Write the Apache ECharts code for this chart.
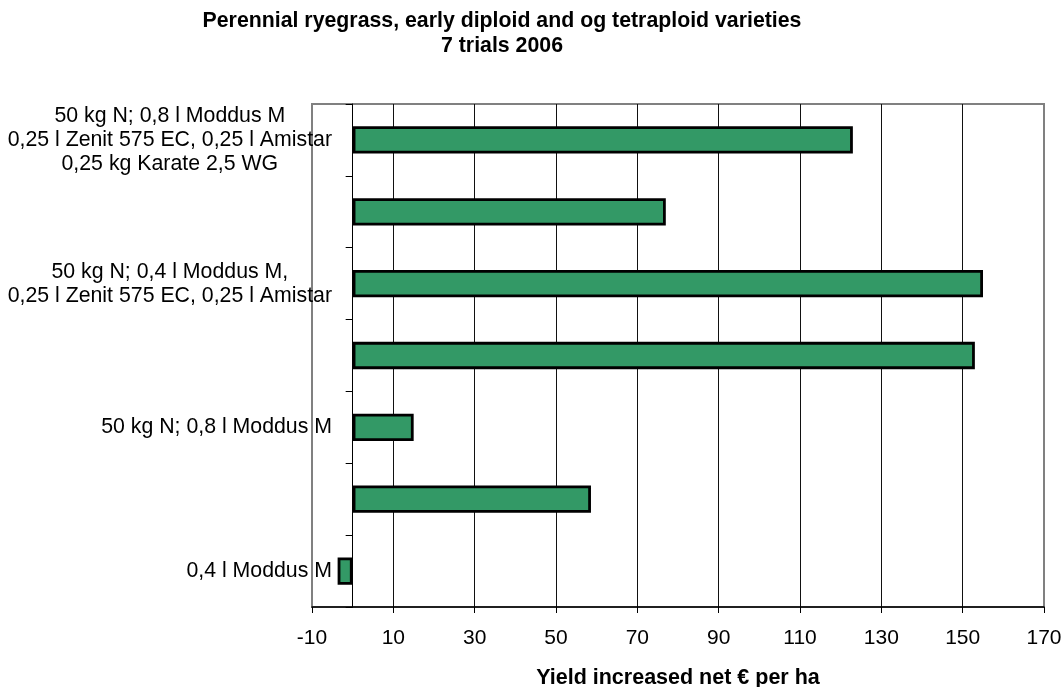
<!DOCTYPE html>
<html>
<head>
<meta charset="utf-8">
<script src="https://cdn.jsdelivr.net/npm/echarts@6/dist/echarts.min.js"></script>
<style>
html,body{margin:0;padding:0;background:#fff;}
#chart{width:1064px;height:687px;}
</style>
</head>
<body>
<div id="chart"></div>
<script>
const titleLines = ['Perennial ryegrass, early diploid and og tetraploid varieties', '7 trials 2006'];
const axisName = 'Yield increased net € per ha';
const categories = [
  '50 kg N; 0,8 l Moddus M\n0,25 l Zenit 575 EC, 0,25 l Amistar\n0,25 kg Karate 2,5 WG',
  '',
  '50 kg N; 0,4 l Moddus M,\n0,25 l Zenit 575 EC, 0,25 l Amistar',
  '',
  '50 kg N; 0,8 l Moddus M',
  '',
  '0,4 l Moddus M'
];
const values = [123, 77, 155, 153, 15, 58.6, -3.7];
const xMin = -10, xMax = 170, xInterval = 20;

const FONT = '"Liberation Sans", Arial, sans-serif';
const chart = echarts.init(document.getElementById('chart'), null, {renderer: 'canvas'});
chart.setOption({
  animation: false,
  backgroundColor: '#fff',
  title: {
    text: titleLines.join('\n'),
    left: 497,
    top: 4,
    textAlign: 'center',
    textStyle: {fontFamily: FONT, fontSize: 21.3, fontWeight: 'bold', color: '#000', lineHeight: 25}
  },
  grid: {
    left: 312, right: 20, top: 104, bottom: 80,
    outerBoundsMode: 'none',
    containLabel: false,
    show: true, borderColor: '#808080', borderWidth: 2, backgroundColor: 'transparent'
  },
  xAxis: {
    type: 'value',
    min: xMin, max: xMax, interval: xInterval,
    name: axisName,
    nameLocation: 'middle',
    nameGap: 60,
    nameTextStyle: {fontFamily: FONT, fontSize: 21.5, fontWeight: 'bold', color: '#000'},
    axisLine: {show: true, lineStyle: {color: '#000', width: 1.5}},
    axisTick: {show: true, length: 6, lineStyle: {color: '#000', width: 1}},
    axisLabel: {fontFamily: FONT, fontSize: 21, color: '#000', margin: 21},
    splitLine: {show: true, showMinLine: false, showMaxLine: false, lineStyle: {color: '#111', width: 1}}
  },
  yAxis: {
    type: 'category',
    inverse: true,
    data: categories,
    axisLine: {show: true, onZero: true, lineStyle: {color: '#000', width: 1}},
    axisTick: {show: true, length: 7, lineStyle: {color: '#000', width: 1}},
    axisLabel: {
      margin: -20,
      interval: 0,
      formatter: function (v) {
        if (!v) return '';
        return v.split('\n').map(function (s) { return '{c|' + s + '}'; }).join('\n');
      },
      rich: {c: {align: 'center', fontFamily: FONT, fontSize: 21.3, lineHeight: 24, color: '#000'}}
    },
    splitLine: {show: false}
  },
  series: [{
    type: 'bar',
    data: values,
    barWidth: '38%',
    itemStyle: {color: '#339966', borderColor: '#000', borderWidth: 2.8}
  }]
});
</script>
</body>
</html>
